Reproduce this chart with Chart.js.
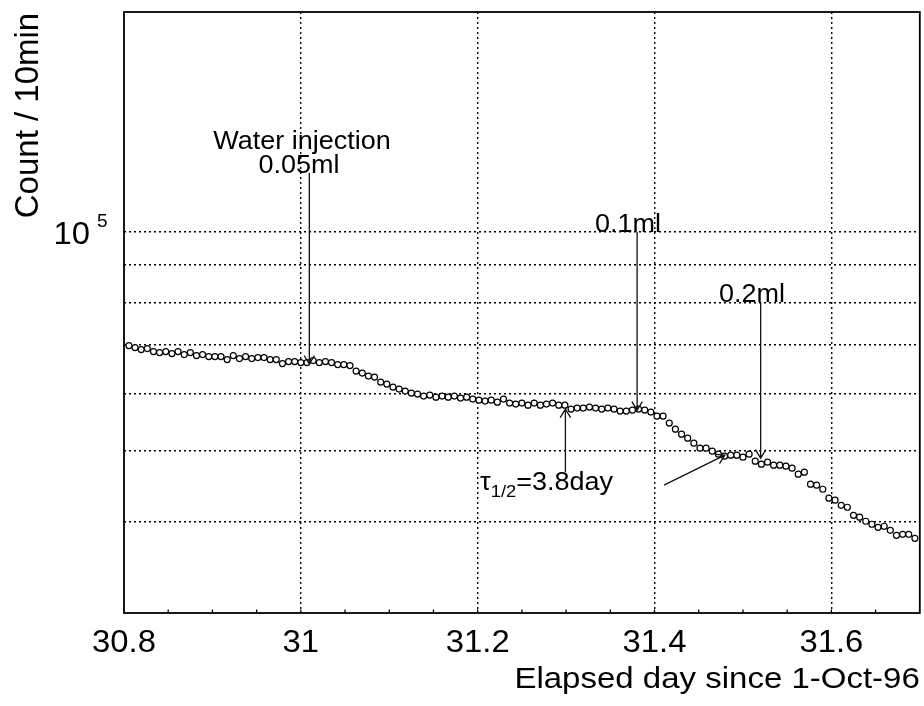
<!DOCTYPE html>
<html>
<head>
<meta charset="utf-8">
<script src="https://cdn.jsdelivr.net/npm/chart.js@4.4.1/dist/chart.umd.min.js"></script>
<style>
  html, body { margin: 0; padding: 0; background: #fff; }
  canvas { display: block; }
</style>
</head>
<body>
<canvas id="decay" width="924" height="706"></canvas>
<script>
// 10-minute samples, first one at day 30.8056
const startDay = 30.80556;
const stepDay = 1 / 144;

const counts = [
  69780, 69340, 68900, 69120, 68470, 68250, 68470, 68040, 68470, 67820,
  68250, 67610, 67820, 67400, 67400, 67400, 66760, 67610, 66970, 67400,
  66970, 67180, 67180, 66760, 66760, 65920, 66340, 66340, 66130, 66130,
  66550, 66130, 66340, 66130, 65710, 65710, 65510, 64380, 63980, 63370,
  63170, 62180, 61790, 61210, 60820, 60440, 60060, 59870, 59490, 59680,
  59300, 59490, 59300, 59490, 59120, 59300, 58930, 58740, 58560, 58740,
  58370, 58930, 58190, 58010, 58190, 57820, 58190, 57820, 58010, 58190,
  57820, 57820, 57100, 57280, 57280, 57460, 57280, 57100, 57280, 57100,
  56740, 56740, 56920, 57100, 56920, 56560, 55850, 55850, 54630, 53600,
  52760, 52100, 51280, 50480, 50480, 50000, 49530, 49220, 49370, 49370,
  49060, 49530, 48440, 47990, 48290, 47840, 47840, 47690, 47390, 46500,
  46790, 45050, 44910, 44340, 43100, 42830, 42150, 41890, 40840, 40590,
  40080, 39700, 39320, 39450, 38950, 38340, 38460, 38460, 37980
];
const days = counts.map((c, i) => startDay + i * stepDay);

const xGrid = [31, 31.2, 31.4, 31.6];
const xTickValues = [30.8, 31, 31.2, 31.4, 31.6];
const xTickLabels = ['30.8', '31', '31.2', '31.4', '31.6'];
const yGrid = [40000, 50000, 60000, 70000, 80000, 90000, 100000];

// arrows: [fromDay, fromCount, toDay, toCount]
const arrows = [
  [31.0096, 120400, 31.0096, 65830],
  [31.3803, 99900, 31.3803, 56910],
  [31.52, 80070, 31.52, 48910],
  [31.2992, 46800, 31.2992, 57090],
  [31.4107, 44910, 31.4795, 49370]
];

const FONT = '"Liberation Sans", Arial, Helvetica, sans-serif';

function say(ctx, s, x, y, size, align, sx) {
  ctx.save();
  ctx.font = size + 'px ' + FONT;
  ctx.translate(x, y);
  ctx.scale(sx, 1);
  ctx.textAlign = align;
  ctx.textBaseline = 'alphabetic';
  ctx.fillStyle = '#000';
  ctx.fillText(s, 0, 0);
  const w = ctx.measureText(s).width * sx;
  ctx.restore();
  return w;
}

function arrow(ctx, x1, y1, x2, y2) {
  const a = Math.atan2(y2 - y1, x2 - x1);
  const len = 10, spread = 0.55;
  ctx.beginPath();
  ctx.moveTo(x1, y1);
  ctx.lineTo(x2, y2);
  ctx.moveTo(x2 - len * Math.cos(a - spread), y2 - len * Math.sin(a - spread));
  ctx.lineTo(x2, y2);
  ctx.lineTo(x2 - len * Math.cos(a + spread), y2 - len * Math.sin(a + spread));
  ctx.stroke();
}

const frame = {
  id: 'frame',
  afterDraw(chart) {
    const ctx = chart.ctx;
    const area = chart.chartArea;
    const xs = chart.scales.x, ys = chart.scales.y;

    ctx.save();
    ctx.strokeStyle = '#000';
    ctx.lineWidth = 1.8;
    ctx.strokeRect(area.left, area.top, area.right - area.left, area.bottom - area.top);

    // small ticks along the bottom edge
    ctx.lineWidth = 1.3;
    ctx.beginPath();
    for (let v = 30.85; v < 31.7; v += 0.05) {
      const px = xs.getPixelForValue(v);
      ctx.moveTo(px, area.bottom);
      ctx.lineTo(px, area.bottom - 3.5);
    }
    ctx.stroke();

    // tick labels
    xTickValues.forEach((v, i) => {
      say(ctx, xTickLabels[i], xs.getPixelForValue(v), 652, 31, 'center', 1.06);
    });
    const y5 = ys.getPixelForValue(100000);
    say(ctx, '10', 90, y5 + 12.5, 31, 'right', 1.06);
    say(ctx, '5', 97, y5 - 4.5, 18, 'left', 1.06);

    // axis titles
    say(ctx, 'Elapsed day since 1-Oct-96', area.right, 688, 30, 'right', 1.1);
    ctx.save();
    ctx.translate(38, 115.5);
    ctx.rotate(-Math.PI / 2);
    ctx.font = '33px ' + FONT;
    ctx.textAlign = 'center';
    ctx.fillStyle = '#000';
    ctx.fillText('Count / 10min', 0, 0);
    ctx.restore();

    // annotations
    say(ctx, 'Water injection', 302, 149, 25, 'center', 1.08);
    say(ctx, '0.05ml', 299, 173, 25, 'center', 1.08);
    say(ctx, '0.1ml', 595, 232, 25, 'left', 1.08);
    say(ctx, '0.2ml', 719, 302, 25, 'left', 1.08);
    let tx = 480;
    tx += say(ctx, 'τ', tx, 490, 25, 'left', 1.08);
    tx += say(ctx, '1/2', tx, 497, 17, 'left', 1.08);
    say(ctx, '=3.8day', tx, 490, 25, 'left', 1.08);

    ctx.strokeStyle = '#111';
    ctx.lineWidth = 1.3;
    arrows.forEach(a => {
      arrow(ctx, xs.getPixelForValue(a[0]), ys.getPixelForValue(a[1]),
        xs.getPixelForValue(a[2]), ys.getPixelForValue(a[3]));
    });
    ctx.restore();
  }
};

new Chart(document.getElementById('decay'), {
  type: 'scatter',
  data: {
    datasets: [{
      data: days.map((d, i) => ({ x: d, y: counts[i] })),
      pointRadius: 3,
      pointHoverRadius: 3,
      pointBorderWidth: 1.2,
      borderColor: '#000',
      backgroundColor: '#fff'
    }]
  },
  options: {
    responsive: false,
    animation: false,
    events: [],
    layout: { padding: { left: 124, top: 12, right: 1, bottom: 93 } },
    plugins: { legend: { display: false }, tooltip: { enabled: false } },
    scales: {
      x: {
        type: 'linear',
        min: 30.8,
        max: 31.7,
        afterBuildTicks: s => { s.ticks = [30.8, ...xGrid, 31.7].map(v => ({ value: v })); },
        ticks: { display: false },
        grid: {
          color: c => (c.tick && xGrid.includes(c.tick.value)) ? '#000' : 'rgba(0,0,0,0)',
          lineWidth: 1.4,
          drawTicks: false
        },
        border: { display: false, dash: [2, 3] }
      },
      y: {
        type: 'logarithmic',
        min: 30000,
        max: 200000,
        afterBuildTicks: s => { s.ticks = [30000, ...yGrid, 200000].map(v => ({ value: v })); },
        ticks: { display: false },
        grid: {
          color: c => (c.tick && yGrid.includes(c.tick.value)) ? '#000' : 'rgba(0,0,0,0)',
          lineWidth: 1.4,
          drawTicks: false
        },
        border: { display: false, dash: [2, 3] }
      }
    }
  },
  plugins: [frame]
});
</script>
</body>
</html>
